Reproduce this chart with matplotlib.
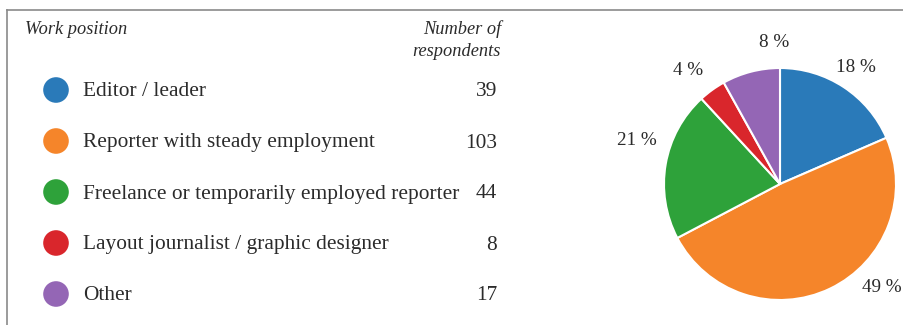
import matplotlib.pyplot as plt
import numpy as np

positions = ["Editor / leader", "Reporter with steady employment",
             "Freelance or temporarily employed reporter",
             "Layout journalist / graphic designer", "Other"]
respondents = [39, 103, 44, 8, 17]
colors = ["#2a7ab9", "#f5852a", "#2ea23a", "#d9262c", "#9466b5"]

plt.rcParams['font.family'] = ['Liberation Serif', 'DejaVu Serif']
txt = "#2b2b2b"

fig = plt.figure(figsize=(9.04, 3.25), dpi=100)

# full-figure axes in pixel units for the table part
bg = fig.add_axes([0, 0, 1, 1])
bg.set_xlim(0, 904)
bg.set_ylim(325, 0)
bg.axis("off")

# frame lines (left and top)
bg.plot([7, 7], [10, 325], color="#8a8a8a", lw=1.2, clip_on=False)
bg.plot([7, 904], [10, 10], color="#8a8a8a", lw=1.2, clip_on=False)

bg.text(25, 29, "Work position", style="italic", fontsize=13.2, color=txt, va="center")
bg.text(501, 29, "Number of", style="italic", fontsize=13.2, color=txt, va="center", ha="right")
bg.text(501, 52, "respondents", style="italic", fontsize=13.2, color=txt, va="center", ha="right")

row_y = 90
for name, n, c in zip(positions, respondents, colors):
    bg.scatter([56], [row_y], s=340, color=c, edgecolors="none")
    bg.text(83, row_y + 2, name, fontsize=15.4, color=txt, va="center")
    bg.text(497, row_y + 2, str(n), fontsize=15.4, color=txt, va="center", ha="right")
    row_y += 51

# pie chart
ax = fig.add_axes([(780 - 116) / 904, (141 - 116) / 325, 232 / 904, 232 / 325])
wedges, _ = ax.pie(respondents, colors=colors, startangle=90, counterclock=False,
                   wedgeprops=dict(edgecolor="white", linewidth=1.5))
ax.set_xlim(-1, 1)
ax.set_ylim(-1, 1)

total = sum(respondents)
# per-slice label nudges: (angle offset in degrees, radial distance)
nudges = [(0, 1.2), (19, 1.25), (-7, 1.29), (3, 1.26), (-12, 1.22)]
for w, n, (da, r) in zip(wedges, respondents, nudges):
    mid = np.deg2rad((w.theta1 + w.theta2) / 2 + da)
    ax.text(r * np.cos(mid), r * np.sin(mid), f"{round(100 * n / total)} %",
            fontsize=13.8, color=txt, ha="center", va="center", clip_on=False)

fig.savefig("out.png", dpi=100)
